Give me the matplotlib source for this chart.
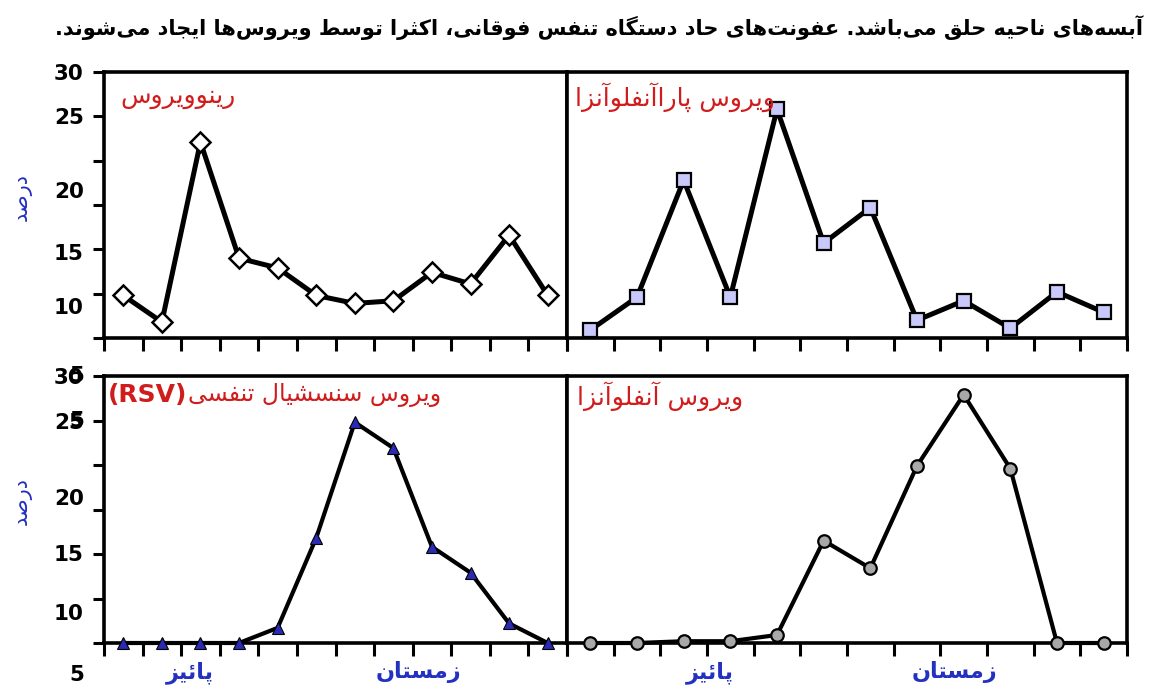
import matplotlib
matplotlib.use("Agg")
import matplotlib.pyplot as plt
import matplotlib.transforms as mtransforms
from matplotlib.ticker import FixedLocator

# ---------------- data (y in axis "tick units": 0 at the x axis, 30 at the top) ----------------
n_bins = 12
rhinovirus = [4.8, 1.8, 22.1, 9.0, 7.9, 4.8, 3.9, 4.2, 7.4, 6.1, 11.6, 4.8]
parainfluenza = [0.9, 4.6, 17.8, 4.6, 25.8, 10.7, 14.7, 2.0, 4.2, 1.1, 5.2, 2.9]
rsv = [0, 0, 0, 0, 1.7, 11.8, 24.8, 21.9, 10.8, 7.9, 2.2, 0]
influenza = [0, 0, 0.2, 0.2, 0.9, 11.5, 8.4, 19.9, 27.9, 19.6, 0, 0]

tick_marks_y = [0, 5, 10, 15, 20, 25, 30]
top_ylabels = ['30', '25', '20', '15', '10']
top_ylabel_pos = [30, 25, 16.7, 9.7, 3.6]
bottom_ylabels = ['30', '25', '20', '15', '10']
bottom_ylabel_pos = [30, 24.9, 16.4, 10.1, 3.5]
bottom_extra_labels = ['5', '5', '5']
bottom_extra_pos = [30, 24.9, -3.6]

season_labels = ['پائیز', 'زمستان']
season_pos_left = [2.23, 8.14]
season_pos_right = [3.06, 8.31]

title_text = 'آبسه‌های ناحیه حلق می‌باشد. عفونت‌های حاد دستگاه تنفس فوقانی، اکثرا توسط ویروس‌ها ایجاد می‌شوند.'
panel_titles = ['رینوویروس', 'ویروس پاراآنفلوآنزا', 'ویروس سنسشیال تنفسی', 'ویروس آنفلوآنزا']
rsv_tag = '(RSV)'
ylabel_text = 'درصد'

# ---------------- minimal Persian shaping (presentation forms + RTL order) ----------------
_AR_FORMS = {
    0x0622: (0xFE81, 0xFE82), 0x0626: (0xFE89, 0xFE8A, 0xFE8B, 0xFE8C),
    0x0627: (0xFE8D, 0xFE8E), 0x0628: (0xFE8F, 0xFE90, 0xFE91, 0xFE92),
    0x062A: (0xFE95, 0xFE96, 0xFE97, 0xFE98), 0x062B: (0xFE99, 0xFE9A, 0xFE9B, 0xFE9C),
    0x062C: (0xFE9D, 0xFE9E, 0xFE9F, 0xFEA0), 0x062D: (0xFEA1, 0xFEA2, 0xFEA3, 0xFEA4),
    0x062E: (0xFEA5, 0xFEA6, 0xFEA7, 0xFEA8), 0x062F: (0xFEA9, 0xFEAA),
    0x0630: (0xFEAB, 0xFEAC), 0x0631: (0xFEAD, 0xFEAE), 0x0632: (0xFEAF, 0xFEB0),
    0x0633: (0xFEB1, 0xFEB2, 0xFEB3, 0xFEB4), 0x0634: (0xFEB5, 0xFEB6, 0xFEB7, 0xFEB8),
    0x0635: (0xFEB9, 0xFEBA, 0xFEBB, 0xFEBC), 0x0636: (0xFEBD, 0xFEBE, 0xFEBF, 0xFEC0),
    0x0637: (0xFEC1, 0xFEC2, 0xFEC3, 0xFEC4), 0x0638: (0xFEC5, 0xFEC6, 0xFEC7, 0xFEC8),
    0x0639: (0xFEC9, 0xFECA, 0xFECB, 0xFECC), 0x063A: (0xFECD, 0xFECE, 0xFECF, 0xFED0),
    0x0641: (0xFED1, 0xFED2, 0xFED3, 0xFED4), 0x0642: (0xFED5, 0xFED6, 0xFED7, 0xFED8),
    0x0644: (0xFEDD, 0xFEDE, 0xFEDF, 0xFEE0), 0x0645: (0xFEE1, 0xFEE2, 0xFEE3, 0xFEE4),
    0x0646: (0xFEE5, 0xFEE6, 0xFEE7, 0xFEE8), 0x0647: (0xFEE9, 0xFEEA, 0xFEEB, 0xFEEC),
    0x0648: (0xFEED, 0xFEEE), 0x067E: (0xFB56, 0xFB57, 0xFB58, 0xFB59),
    0x0686: (0xFB7A, 0xFB7B, 0xFB7C, 0xFB7D), 0x0698: (0xFB8A, 0xFB8B),
    0x06A9: (0xFB8E, 0xFB8F, 0xFB90, 0xFB91), 0x06AF: (0xFB92, 0xFB93, 0xFB94, 0xFB95),
    0x06CC: (0xFBFC, 0xFBFD, 0xFBFE, 0xFBFF),
}


def fa(s):
    chars = list(s)
    out = []
    for i, c in enumerate(chars):
        f = _AR_FORMS.get(ord(c))
        if f is None:
            if c != '\u200c':
                out.append(c)
            continue
        prev = _AR_FORMS.get(ord(chars[i - 1])) if i > 0 else None
        nxt = _AR_FORMS.get(ord(chars[i + 1])) if i < len(chars) - 1 else None
        jp = prev is not None and len(prev) == 4
        jn = len(f) == 4 and nxt is not None
        if jp and jn:
            g = f[3]
        elif jp:
            g = f[1]
        elif jn:
            g = f[2]
        else:
            g = f[0]
        out.append(chr(g))
    return ''.join(reversed(out))


# ---------------- figure ----------------
W, H = 1150, 690
fig = plt.figure(figsize=(W / 100, H / 100), dpi=100)
FA = ['DejaVu Sans']
RED = '#d01c1c'
BLUE = '#2330c0'
YPAD = 14.5
YLAB_SIZE = 15.5


def add_ax(x0, x1, y0, y1):
    return fig.add_axes([x0 / W, 1 - y1 / H, (x1 - x0) / W, (y1 - y0) / H])


ax_tl = add_ax(104, 567, 72, 338)
ax_tr = add_ax(567, 1127, 72, 338)
ax_bl = add_ax(104, 567, 376, 643)
ax_br = add_ax(567, 1127, 376, 643)

x = [i + 0.5 for i in range(n_bins)]

series = [
    (ax_tl, rhinovirus, dict(marker='D', ms=10, mfc='white', mec='black', mew=1.8, lw=3.6)),
    (ax_tr, parainfluenza, dict(marker='s', ms=10, mfc='#c8c8fa', mec='black', mew=1.6, lw=3.6)),
    (ax_bl, rsv, dict(marker='^', ms=8.5, mfc='#2a2ab4', mec='black', mew=0.8, lw=3.0)),
    (ax_br, influenza, dict(marker='o', ms=9, mfc='#a8a8a8', mec='black', mew=1.6, lw=3.0)),
]

for ax, vals, style in series:
    ax.set_xlim(0, n_bins)
    ax.set_ylim(0, 30)
    ax.plot(x, vals, color='black', clip_on=False, zorder=3, **style)
    for sp in ax.spines.values():
        sp.set_linewidth(2.6)
        sp.set_color('black')
    ax.xaxis.set_minor_locator(FixedLocator(list(range(n_bins + 1))))
    ax.tick_params(axis='x', which='minor', direction='out', length=9, width=2.2, bottom=True)
    ax.xaxis.remove_overlapping_locs = False
    ax.yaxis.remove_overlapping_locs = False
    ax.set_xticks([])
    ax.set_yticks([])

# y axes of the left panels
for ax, pos, labels in [(ax_tl, top_ylabel_pos, top_ylabels), (ax_bl, bottom_ylabel_pos, bottom_ylabels)]:
    ax.yaxis.set_minor_locator(FixedLocator(tick_marks_y))
    ax.tick_params(axis='y', which='minor', direction='out', length=8, width=2.2, left=True)
    ax.set_yticks(pos, labels)
    ax.tick_params(axis='y', which='major', length=0, pad=YPAD, labelsize=YLAB_SIZE)
    for t in ax.get_yticklabels():
        t.set_fontweight('bold')
        t.set_family('DejaVu Sans')
    ax.set_ylabel(fa(ylabel_text), family=FA, color=BLUE, fontsize=15, rotation=90)
    ax.yaxis.set_label_coords(-0.155, 0.53)

# stray overlapping labels of the lower panel (as in the original figure)
lab_tr = mtransforms.blended_transform_factory(ax_bl.transAxes, ax_bl.transData) + \
    mtransforms.ScaledTranslation(-YPAD / 72, 0, fig.dpi_scale_trans)
for lab, pos in zip(bottom_extra_labels, bottom_extra_pos):
    ax_bl.text(0, pos, lab, transform=lab_tr, ha='right', va='center', fontsize=YLAB_SIZE,
               fontweight='bold', family='DejaVu Sans', clip_on=False)

# season labels under the bottom panels
for ax, pos in [(ax_bl, season_pos_left), (ax_br, season_pos_right)]:
    ax.set_xticks(pos, [fa(s) for s in season_labels])
    ax.tick_params(axis='x', which='major', length=0, pad=13, labelsize=16, labelcolor=BLUE)
    for t in ax.get_xticklabels():
        t.set_fontweight('bold')
        t.set_family(FA)

# panel titles
TSIZE = 18
ax_tl.text(0.035, 0.905, fa(panel_titles[0]), transform=ax_tl.transAxes, ha='left', va='center',
           color=RED, fontsize=TSIZE, family=FA)
ax_tr.text(0.014, 0.905, fa(panel_titles[1]), transform=ax_tr.transAxes, ha='left', va='center',
           color=RED, fontsize=TSIZE, family=FA)
rsv_txt = ax_bl.text(0.009, 0.93, rsv_tag, transform=ax_bl.transAxes, ha='left', va='center',
                     color=RED, fontsize=18, fontweight='bold', family='DejaVu Sans')
ax_bl.annotate(fa(panel_titles[2]), xy=(1, 0.5), xycoords=rsv_txt, ha='left', va='center',
               color=RED, fontsize=17, family=FA)
ax_br.text(0.018, 0.925, fa(panel_titles[3]), transform=ax_br.transAxes, ha='left', va='center',
           color=RED, fontsize=TSIZE, family=FA)

fig.text(1143 / W, 1 - 28 / H, fa(title_text), ha='right', va='center', fontsize=15,
         family=FA, fontweight='bold', color='black')

fig.savefig('out.png', dpi=100)
